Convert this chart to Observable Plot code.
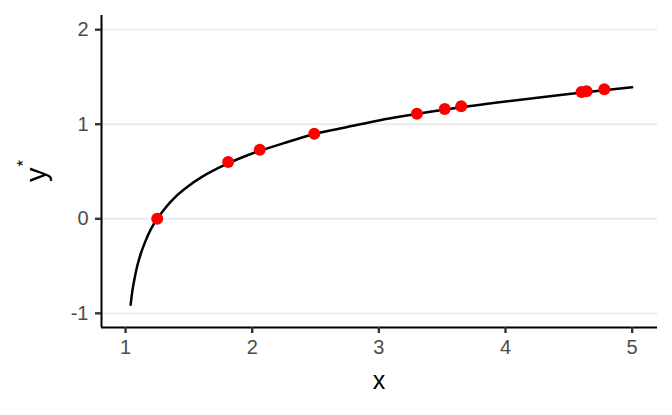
<!DOCTYPE html>
<html>
<head>
<meta charset="utf-8">
<script src="https://cdn.jsdelivr.net/npm/d3@7"></script>
<script src="https://cdn.jsdelivr.net/npm/@observablehq/plot@0.6"></script>
<style>
  html, body { margin: 0; padding: 0; background: #fff; }
  svg { display: block; }
</style>
</head>
<body>
<div id="chart"></div>
<script>
// Curve
const curveX = [1.04, 1.05, 1.06, 1.07, 1.08, 1.10, 1.12, 1.15, 1.20, 1.25, 1.30, 1.35, 1.40, 1.50, 1.60, 1.80, 2.00, 2.25, 2.50, 2.75, 3.00, 3.50, 4.00, 4.50, 5.00];
const curveY = [-0.91, -0.80, -0.71, -0.64, -0.57, -0.46, -0.37, -0.26, -0.11, 0.00, 0.09, 0.17, 0.24, 0.35, 0.44, 0.58, 0.69, 0.80, 0.90, 0.97, 1.04, 1.15, 1.24, 1.32, 1.39];
// Observed points
const pointX = [1.25, 1.81, 2.06, 2.49, 3.30, 3.52, 3.65, 4.60, 4.64, 4.78];
const pointY = [0.00, 0.60, 0.73, 0.90, 1.11, 1.16, 1.19, 1.34, 1.35, 1.37];
// Axes
const xTicks = [1, 2, 3, 4, 5];
const yTicks = [-1, 0, 1, 2];
const xDomain = [0.81, 5.2];
const yDomain = [-1.15, 2.15];
const xTitle = "x";
const yTitle = "y";
const yTitleSup = "*";

const curve = curveX.map((x, i) => ({x, y: curveY[i]}));
const points = pointX.map((x, i) => ({x, y: pointY[i]}));

const W = 672, H = 415;
const mL = 101, mR = 15, mT = 15, mB = 88;
const fmt = d => String(d);
const FONT = "'Liberation Sans', Arial, sans-serif";

const chart = Plot.plot({
  width: W, height: H,
  marginLeft: mL, marginRight: mR, marginTop: mT, marginBottom: mB,
  style: {fontFamily: FONT, background: "#fff"},
  x: {domain: xDomain, ticks: xTicks, label: null},
  y: {domain: yDomain, ticks: yTicks, label: null},
  marks: [
    Plot.gridY(yTicks, {stroke: "#ebebeb", strokeOpacity: 1, strokeWidth: 1.8}),
    Plot.ruleY([yDomain[0]], {stroke: "#000", strokeWidth: 2}),
    Plot.ruleX([xDomain[0]], {stroke: "#000", strokeWidth: 2}),
    Plot.axisX(xTicks, {tickSize: 6, tickPadding: 6, stroke: "#333", strokeWidth: 2.4, fill: "#4d4d4d", tickFormat: fmt, label: null}),
    Plot.axisY(yTicks, {tickSize: 6, tickPadding: 7, stroke: "#333", strokeWidth: 2.4, fill: "#4d4d4d", tickFormat: fmt, label: null}),
    Plot.line(curve, {x: "x", y: "y", stroke: "#000", strokeWidth: 2.5, curve: "monotone-x"}),
    Plot.dot(points, {x: "x", y: "y", r: 6, fill: "#ff0000", stroke: "none"})
  ]
});

document.getElementById("chart").appendChild(chart);

const svg = d3.select(chart);
// enlarge tick labels
svg.selectAll('g[aria-label$="tick label"]').attr("font-size", 20).selectAll("text").style("font-size", "20px");

const px = mL + (W - mL - mR) / 2;
const py = mT + (H - mT - mB) / 2;
svg.append("text")
  .attr("x", px).attr("y", 389)
  .attr("text-anchor", "middle")
  .attr("font-size", 25)
  .attr("fill", "#000")
  .style("font-family", FONT)
  .text(xTitle);
const yt = svg.append("text")
  .attr("transform", `translate(46,${py}) rotate(-90)`)
  .attr("text-anchor", "middle")
  .attr("font-size", 29)
  .attr("fill", "#000")
  .style("font-family", FONT);
yt.append("tspan").text(yTitle);
yt.append("tspan").attr("dy", -17).attr("dx", 1).attr("font-size", 17).text(yTitleSup);
</script>
</body>
</html>
